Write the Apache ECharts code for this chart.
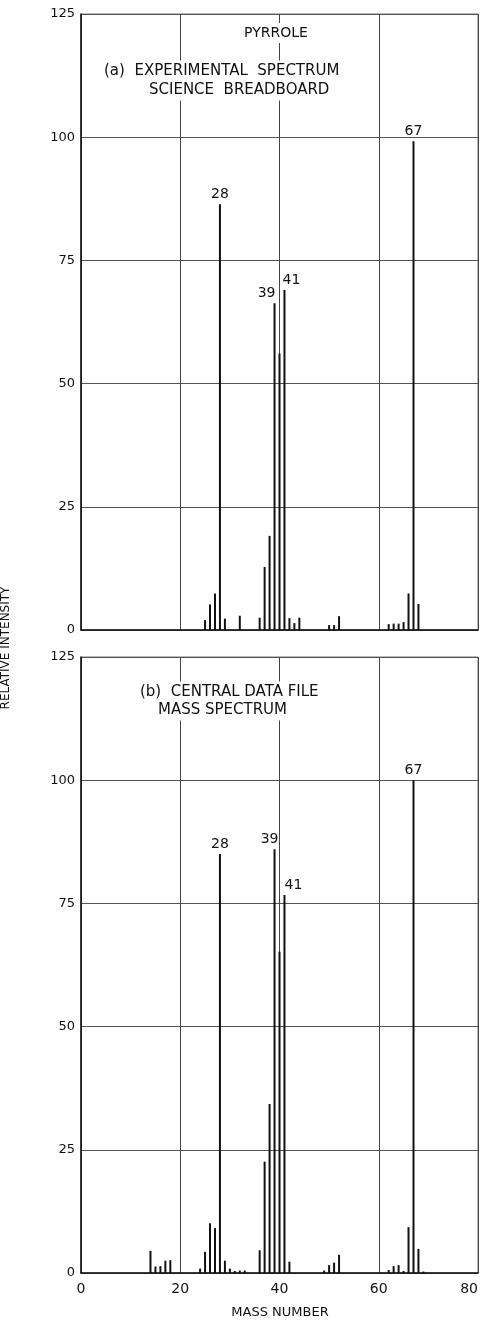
<!DOCTYPE html>
<html>
<head>
<meta charset="utf-8">
<title>Pyrrole mass spectrum</title>
<script src="https://cdn.jsdelivr.net/npm/echarts@6/dist/echarts.min.js"></script>
<style>
  html, body { margin: 0; padding: 0; background: #fff; }
  #chart { width: 483px; height: 1323px; }
</style>
</head>
<body>
<div id="chart"></div>
<script>
// (a) experimental spectrum - science breadboard
var massA = [25, 26, 27, 28, 29, 32, 36, 37, 38, 39, 40, 41, 42, 43, 44, 50, 51, 52, 62, 63, 64, 65, 66, 67, 68];
var intensA = [2.0, 5.2, 7.4, 86.4, 2.3, 2.9, 2.5, 12.8, 19.1, 66.3, 56.1, 69.0, 2.4, 1.4, 2.5, 1.0, 1.0, 2.8, 1.2, 1.3, 1.3, 1.6, 7.4, 99.2, 5.3];
// (b) central data file mass spectrum
var massB = [14, 15, 16, 17, 18, 24, 25, 26, 27, 28, 29, 30, 31, 32, 33, 36, 37, 38, 39, 40, 41, 42, 49, 50, 51, 52, 62, 63, 64, 65, 66, 67, 68, 69];
var intensB = [4.5, 1.3, 1.4, 2.5, 2.6, 0.9, 4.3, 10.1, 9.1, 85.0, 2.5, 0.9, 0.4, 0.5, 0.5, 4.6, 22.6, 34.3, 86.0, 65.2, 76.7, 2.3, 0.5, 1.6, 2.1, 3.7, 0.6, 1.4, 1.6, 0.4, 9.3, 100, 4.9, 0.3];

var xTicks = [0, 20, 40, 60, 80];
var yTicks = [0, 25, 50, 75, 100, 125];

// peaks that get a number on top, with a small shift [dx, dy]
var peakLabelsA = { 28: [0, 0], 39: [-8, 0], 41: [7, 0], 67: [0, 0] };
var peakLabelsB = { 28: [0, 0], 39: [-5, 0], 41: [9, 0], 67: [0, 0] };

var FONT = 'DejaVu Sans';

function buildData(masses, vals, labels) {
  var out = [];
  for (var i = 0; i < masses.length; i++) {
    var item = { value: [masses[i], vals[i]] };
    if (labels[masses[i]]) {
      item.label = {
        show: true,
        position: 'top',
        distance: 3,
        offset: labels[masses[i]],
        formatter: String(masses[i]),
        color: '#111',
        fontFamily: FONT,
        fontSize: 14
      };
    }
    out.push(item);
  }
  return out;
}

function xAxisFor(idx, showLabels) {
  return {
    gridIndex: idx,
    type: 'value',
    min: 0,
    max: 80,
    interval: 20,
    axisLine: { show: true, onZero: false, lineStyle: { color: '#111', width: 1.5 } },
    axisTick: { show: false },
    axisLabel: {
      show: showLabels,
      color: '#111',
      fontFamily: FONT,
      fontSize: 14,
      margin: 9,
      alignMaxLabel: 'right',
      customValues: xTicks
    },
    splitLine: { show: true, lineStyle: { color: '#444', width: 1 } }
  };
}

function yAxisFor(idx) {
  return {
    gridIndex: idx,
    type: 'value',
    min: 0,
    max: 125,
    interval: 25,
    axisLine: { show: true, lineStyle: { color: '#111', width: 1.5 } },
    axisTick: { show: false },
    axisLabel: {
      color: '#111',
      fontFamily: FONT,
      fontSize: 13,
      margin: 6,
      customValues: yTicks
    },
    splitLine: { show: true, lineStyle: { color: '#555', width: 1 } }
  };
}

// caption line, white box behind so grid lines break around it
function caption(text, x, y, size) {
  return {
    type: 'text',
    z: 100,
    x: x,
    y: y,
    style: {
      text: text,
      align: 'left',
      verticalAlign: 'middle',
      font: (size || 15) + 'px "' + FONT + '"',
      fill: '#111',
      backgroundColor: '#fff',
      padding: [3, 3]
    }
  };
}

var chart = echarts.init(document.getElementById('chart'), null, { renderer: 'canvas' });
chart.setOption({
  animation: false,
  backgroundColor: '#fff',
  grid: [
    { left: 81, top: 14, width: 397, height: 616, outerBoundsMode: 'none', show: true, borderColor: '#777', borderWidth: 1 },
    { left: 81, top: 657, width: 397, height: 616, outerBoundsMode: 'none', show: true, borderColor: '#777', borderWidth: 1 }
  ],
  xAxis: [xAxisFor(0, false), xAxisFor(1, true)],
  yAxis: [yAxisFor(0), yAxisFor(1)],
  series: [
    {
      type: 'bar',
      xAxisIndex: 0,
      yAxisIndex: 0,
      barWidth: 2,
      itemStyle: { color: '#111' },
      data: buildData(massA, intensA, peakLabelsA)
    },
    {
      type: 'bar',
      xAxisIndex: 1,
      yAxisIndex: 1,
      barWidth: 2,
      itemStyle: { color: '#111' },
      data: buildData(massB, intensB, peakLabelsB)
    }
  ],
  graphic: [
    caption('PYRROLE', 241, 33, 14),
    caption('(a)  EXPERIMENTAL  SPECTRUM', 101, 71),
    caption('SCIENCE  BREADBOARD', 146, 90),
    caption('(b)  CENTRAL DATA FILE', 137, 692),
    caption('MASS SPECTRUM', 155, 710),
    {
      type: 'text',
      x: 280,
      y: 1313,
      style: {
        text: 'MASS NUMBER',
        align: 'center',
        verticalAlign: 'middle',
        font: '13px "' + FONT + '"',
        fill: '#111'
      }
    },
    {
      type: 'text',
      x: 6,
      y: 648,
      rotation: Math.PI / 2,
      style: {
        text: 'RELATIVE INTENSITY',
        align: 'center',
        verticalAlign: 'middle',
        font: '12px "' + FONT + '"',
        fill: '#111'
      }
    }
  ]
});
</script>
</body>
</html>
